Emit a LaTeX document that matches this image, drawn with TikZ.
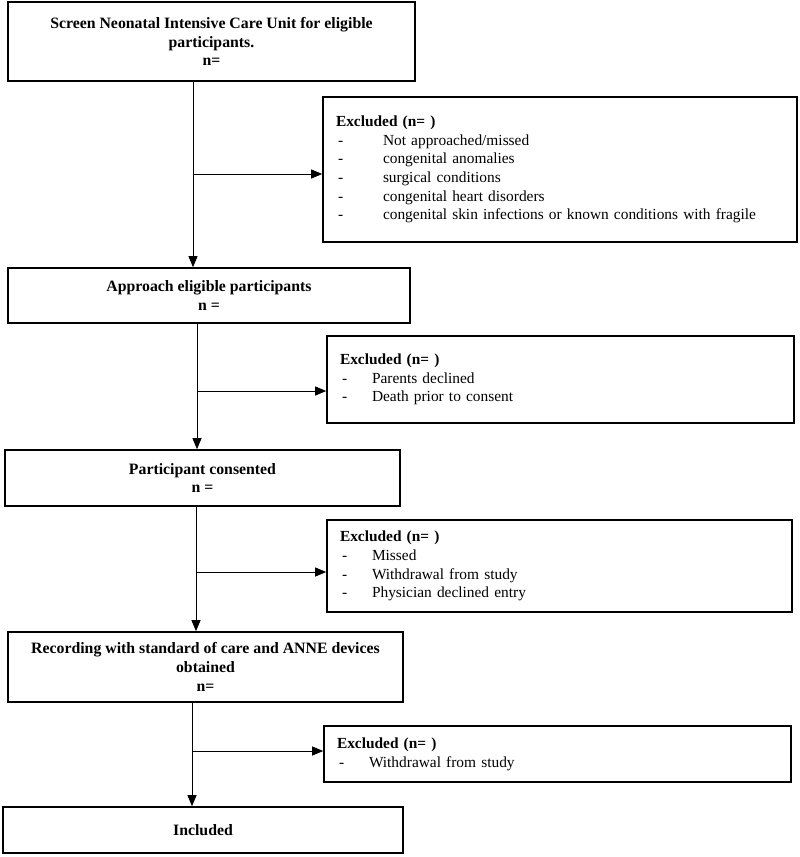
\documentclass[tikz,border=0pt]{standalone}
\usepackage{fontspec}
\setmainfont{Liberation Serif}
\usepackage{tikz}
\usetikzlibrary{arrows.meta}
\newcommand{\exitem}[2][32pt]{\makebox[#1][l]{\hspace{2pt}-}#2}
\tikzset{
	stagebox/.style = {draw, line width=1.6pt, align=center, inner sep=0pt,
		font=\fontsize{15.8}{18.7}\selectfont\bfseries},
	exclbox/.style = {draw, line width=1.6pt, align=left, inner xsep=13pt, inner ysep=0pt,
		font=\fontsize{15.4}{18.7}\selectfont},
	flow/.style = {line width=0.9pt, -{Triangle[length=11pt,width=9pt]}}
}

\begin{document}
\begin{tikzpicture}[x=1pt, y=-1pt]
			\useasboundingbox (0, 0) rectangle (800, 857);
			% main stages
			\node[stagebox, minimum width=407, minimum height=79] (screen) at (211.5, 41.5)
				{Screen Neonatal Intensive Care Unit for eligible\\ participants.\\ n=};
			\node[stagebox, minimum width=402, minimum height=55] (approach) at (209, 295.5)
				{Approach eligible participants\\ n =};
			\node[stagebox, minimum width=395, minimum height=56] (consent) at (202.5, 478)
				{Participant consented\\ n =};
			\node[stagebox, minimum width=395, minimum height=70] (record) at (205.5, 667)
				{Recording with standard of care and ANNE devices\\ obtained\\ n=};
			\node[stagebox, minimum width=400, minimum height=46] (included) at (203, 830)
				{Included};
			% exclusion boxes
			\node[exclbox, minimum width=474, minimum height=145, text width=448] (exclA) at (560, 169.5)
				{\textbf{Excluded (n= )}\\
				\exitem[47pt]{Not approached/missed}\\
				\exitem[47pt]{congenital anomalies}\\
				\exitem[47pt]{surgical conditions}\\
				\exitem[47pt]{congenital heart disorders}\\
				\exitem[47pt]{congenital skin infections or known conditions with fragile}};
			\node[exclbox, minimum width=467, minimum height=87, text width=441] (exclB) at (560.5, 379.5)
				{\textbf{Excluded (n= )}\\
				\exitem{Parents declined}\\
				\exitem{Death prior to consent}};
			\node[exclbox, minimum width=465, minimum height=92, text width=439] (exclC) at (559.5, 566)
				{\textbf{Excluded (n= )}\\
				\exitem{Missed}\\
				\exitem{Withdrawal from study}\\
				\exitem{Physician declined entry}};
			\node[exclbox, minimum width=467, minimum height=56, text width=441] (exclD) at (557.5, 754)
				{\textbf{Excluded (n= )}\\
				\exitem{Withdrawal from study}};
			% branch points
			\coordinate (splitA) at (193, 174);
			\coordinate (splitB) at (197, 391);
			\coordinate (splitC) at (196, 572);
			\coordinate (splitD) at (192, 751);
			% arrows
			\draw[flow] (screen.south -| splitA) -- (approach.north -| splitA);
			\draw[flow] (splitA) -- (exclA.west |- splitA);
			\draw[flow] (approach.south -| splitB) -- (consent.north -| splitB);
			\draw[flow] (splitB) -- (exclB.west |- splitB);
			\draw[flow] (consent.south -| splitC) -- (record.north -| splitC);
			\draw[flow] (splitC) -- (exclC.west |- splitC);
			\draw[flow] (record.south -| splitD) -- (included.north -| splitD);
			\draw[flow] (splitD) -- (exclD.west |- splitD);
		\end{tikzpicture}
\end{document}
